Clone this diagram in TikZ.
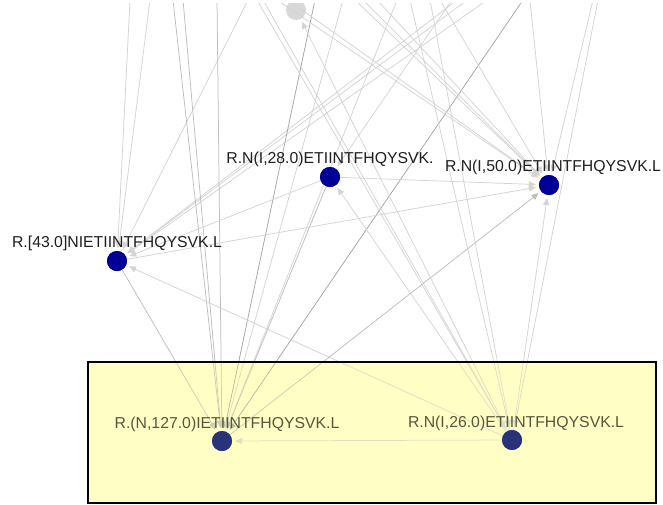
\documentclass[tikz,border=0pt]{standalone}
\usepackage{fontspec}
\setmainfont{Liberation Sans}
\usetikzlibrary{arrows.meta}
\definecolor{navyblue}{RGB}{0,0,150}
\definecolor{dimnavy}{RGB}{42,50,122}
\definecolor{edgelight}{RGB}{212,212,212}
\definecolor{edgemid}{RGB}{190,190,190}
\definecolor{edgedark}{RGB}{165,165,165}
\definecolor{boxfill}{RGB}{255,255,214}
\definecolor{boxtint}{RGB}{255,255,150}
\definecolor{ghost}{RGB}{216,216,216}

\begin{document}
\begin{tikzpicture}[x=1pt,y=-1pt,
  vertex/.style={circle,fill=navyblue,minimum size=20pt,inner sep=0pt},
  dimvertex/.style={vertex,fill=dimnavy},
  ghostvertex/.style={circle,fill=ghost,minimum size=20pt,inner sep=0pt},
  lbl/.style={anchor=base,font=\fontsize{15.8}{18}\selectfont,inner sep=0pt,text=black!88},
  link/.style={draw=edgelight,line width=0.75pt,-{Triangle[length=7pt,width=6pt]},shorten >=3pt},
  linkmid/.style={link,draw=edgemid},
  linkdark/.style={link,draw=edgedark}]

\useasboundingbox (0,0) rectangle (663,504);
\fill[white] (0,0) rectangle (663,504);

% highlighted group area
\fill[boxfill] (88,362) rectangle (656,503);

% visible peptide nodes
\node[vertex] (nA) at (330,177) {};
\node[vertex] (nB) at (549,185) {};
\node[vertex] (nC) at (117,261) {};
\node[vertex] (nD) at (222,441) {};
\node[vertex] (nE) at (512,440) {};

% free ends of edges leaving the top of the view
\foreach \x in {130,150,173,183,217,248,257,263,277,288,315,343,355,363,377,397,410,430,440,452,457,467,487,523,530,593,598}
  \coordinate (t\x) at (\x,0);

\begin{scope}
\clip (0,3) rectangle (663,504);
\node[ghostvertex] (nG) at (296,10) {};

% edges coming in from nodes above the view
\foreach \s in {130,150,248,457,467,487} \draw[link] (t\s) -- (nC);
\foreach \s in {173,183,217} \draw[linkmid] (t\s) -- (nD);
\foreach \s in {315,523} \draw[linkdark] (t\s) -- (nD);
\foreach \s in {343,397} \draw[link] (t\s) -- (nD);
\foreach \s in {257,263,410,430,598} \draw[link] (t\s) -- (nE);
\foreach \s in {277,288,355,363,377,440,530,593} \draw[link] (t\s) -- (nB);
\draw[link] (t452) -- (nA);

% edges between the visible nodes
\draw[link] (nA) -- (nB);
\draw[link] (nA) -- (nC);
\draw[link] (nC) -- (nB);
\draw[link] (nE) -- (nC);
\draw[link] (nE) -- (nA);
\draw[link] (nE) -- (nB);
\draw[linkmid] (nD) -- (nB);
\draw[linkmid] (nC) -- (nD);
\draw[linkmid] (nA) -- (nD);
\draw[link] (nE) -- (nD);
\draw[link] (nE) -- (nG);
\end{scope}

% redraw nodes over the edges
\node[vertex] at (nA) {};
\node[vertex] at (nB) {};
\node[vertex] at (nC) {};

% labels
\node[lbl] (lA) at (330,163) {R.N(I,28.0)ETIINTFHQYSVK.};
\node[lbl] (lB) at (553,171) {R.N(I,50.0)ETIINTFHQYSVK.L};
\node[lbl] (lC) at (117,247) {R.[43.0]NIETIINTFHQYSVK.L};
\node[lbl] (lD) at (227,428) {R.(N,127.0)IETIINTFHQYSVK.L};
\node[lbl] (lE) at (516,427) {R.N(I,26.0)ETIINTFHQYSVK.L};

% translucent tint and frame of the group area
\fill[boxtint,opacity=0.25] (88,362) rectangle (656,503);
\node[dimvertex] at (nD) {};
\node[dimvertex] at (nE) {};
\draw[black,line width=2pt] (88,362) rectangle (656,502.5);
\end{tikzpicture}
\end{document}
